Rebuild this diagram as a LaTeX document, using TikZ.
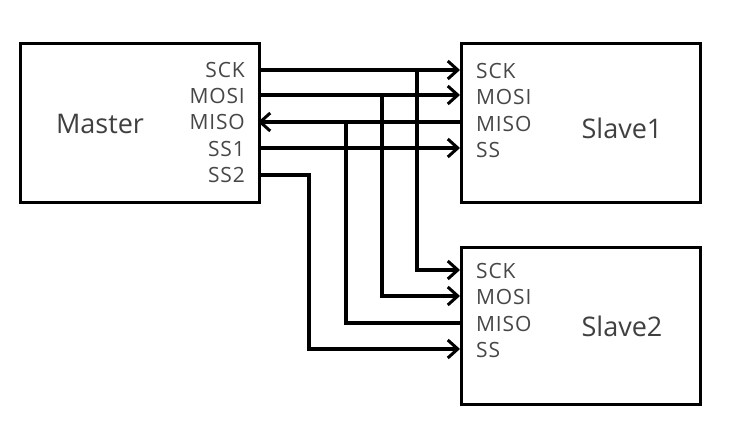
\documentclass[tikz,border=0pt]{standalone}
\usepackage{fontspec}
\setmainfont{Open Sans}
\newfontfamily\pinfont[LetterSpace=4]{Open Sans}
\usetikzlibrary{arrows.meta}
\begin{document}
\begin{tikzpicture}[x=1pt,y=-1pt,
  box/.style={draw=black,line width=3.2pt,fill=white,inner sep=0pt,anchor=north west,minimum width=239pt,minimum height=159pt},
  wire/.style={line width=3.2pt,draw=black},
  sig/.style={wire,-{Straight Barb[length=10pt,width=18pt,line width=3pt]}},
  pinl/.style={anchor=east,inner sep=0pt,font=\pinfont\fontsize{21}{24}\selectfont,text=black!72},
  pinr/.style={anchor=west,inner sep=0pt,font=\pinfont\fontsize{21}{24}\selectfont,text=black!72},
  title/.style={inner sep=0pt,font=\fontsize{27}{30}\selectfont,text=black!75}]
\useasboundingbox (0,0) rectangle (743,427);
\fill[white] (0,0) rectangle (743,427);
% boxes
\node[box] (master) at (19,42) {};
\node[box] (slave1) at (460,42) {};
\node[box,minimum height=157pt] (slave2) at (460,246) {};
% titles
\node[title] (tm) at (100,124) {Master};
\node[title] (t1) at (622,128) {Slave1};
\node[title] (t2) at (622,326) {Slave2};
% master pin labels
\node[pinl] (lm1) at (245,70) {SCK};
\node[pinl] (lm2) at (245,96) {MOSI};
\node[pinl] (lm3) at (245,122) {MISO};
\node[pinl] (lm4) at (245,149) {SS1};
\node[pinl] (lm5) at (245,175) {SS2};
% slave1 pin labels
\node[pinr] (ls11) at (476,71) {SCK};
\node[pinr] (ls12) at (476,97) {MOSI};
\node[pinr] (ls13) at (476,124) {MISO};
\node[pinr] (ls14) at (476,150) {SS};
% slave2 pin labels
\node[pinr] (ls21) at (476,271) {SCK};
\node[pinr] (ls22) at (476,297) {MOSI};
\node[pinr] (ls23) at (476,324) {MISO};
\node[pinr] (ls24) at (476,350) {SS};
% pin coordinates
\coordinate (msck) at (258,70);
\coordinate (mmosi) at (258,95);
\coordinate (mmiso) at (258,122);
\coordinate (mss1) at (258,148);
\coordinate (mss2) at (258,175);
\coordinate (s1sck) at (460,70);
\coordinate (s1mosi) at (460,95);
\coordinate (s1miso) at (460,122);
\coordinate (s1ss) at (460,148);
\coordinate (s2sck) at (460,270);
\coordinate (s2mosi) at (460,296);
\coordinate (s2miso) at (460,323);
\coordinate (s2ss) at (460,349);
% junctions
\coordinate (jsck) at (417,70);
\coordinate (jmosi) at (382,95);
\coordinate (jmiso) at (346,122);
\coordinate (jss2) at (309,175);
% wires
\draw[sig] (msck) -- (s1sck);
\draw[sig] (mmosi) -- (s1mosi);
\draw[sig] (s1miso) -- (mmiso);
\draw[sig] (mss1) -- (s1ss);
\draw[sig] (jsck) |- (s2sck);
\draw[sig] (jmosi) |- (s2mosi);
\draw[wire] (s2miso) -| (jmiso);
\draw[sig] (mss2) -- (jss2) |- (s2ss);
\end{tikzpicture}
\end{document}
